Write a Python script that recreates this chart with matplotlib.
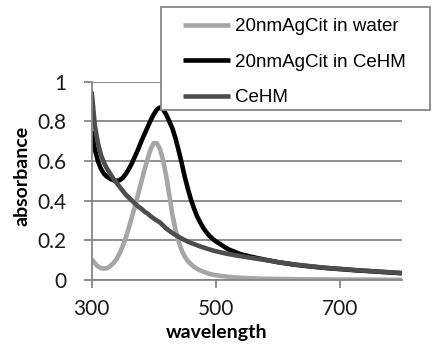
import numpy as np
from matplotlib import pyplot as plt
from matplotlib.patches import Rectangle

# wavelength grid (nm) shared by the three spectra
wavelength = [300, 305, 310, 315, 320, 325, 330, 335, 340, 345,
              350, 355, 360, 365, 370, 375, 380, 385, 390, 395,
              400, 405, 410, 415, 420, 425, 430, 435, 440, 445,
              450, 455, 460, 465, 470, 475, 480, 485, 490, 495,
              500, 520, 540, 560, 580, 600, 625, 650, 675, 700,
              725, 750, 775, 800]

agcit_water = [0.105, 0.085, 0.068, 0.060, 0.057, 0.060, 0.070, 0.085, 0.105, 0.135,
               0.170, 0.215, 0.265, 0.320, 0.375, 0.435, 0.495, 0.555, 0.610, 0.660,
               0.690, 0.690, 0.660, 0.605, 0.525, 0.430, 0.330, 0.255, 0.195, 0.150,
               0.118, 0.095, 0.080, 0.066, 0.056, 0.048, 0.042, 0.036, 0.031, 0.027,
               0.024, 0.016, 0.011, 0.008, 0.006, 0.005, 0.004, 0.003, 0.003, 0.002,
               0.002, 0.002, 0.001, 0.001]

agcit_cehm = [0.750, 0.660, 0.600, 0.560, 0.535, 0.520, 0.510, 0.503, 0.500, 0.503,
              0.515, 0.535, 0.560, 0.590, 0.625, 0.660, 0.700, 0.735, 0.770, 0.805,
              0.835, 0.860, 0.870, 0.860, 0.835, 0.800, 0.765, 0.715, 0.655, 0.590,
              0.520, 0.460, 0.405, 0.360, 0.320, 0.290, 0.262, 0.240, 0.222, 0.207,
              0.195, 0.155, 0.130, 0.115, 0.102, 0.090, 0.078, 0.069, 0.061, 0.055,
              0.049, 0.044, 0.039, 0.034]

cehm = [0.950, 0.780, 0.690, 0.630, 0.590, 0.560, 0.535, 0.510, 0.490, 0.470,
        0.450, 0.430, 0.415, 0.400, 0.385, 0.370, 0.360, 0.345, 0.335, 0.322,
        0.310, 0.300, 0.290, 0.275, 0.260, 0.248, 0.237, 0.227, 0.218, 0.209,
        0.201, 0.194, 0.187, 0.181, 0.175, 0.169, 0.164, 0.159, 0.154, 0.149,
        0.145, 0.131, 0.120, 0.110, 0.101, 0.090, 0.079, 0.070, 0.062, 0.056,
        0.050, 0.045, 0.040, 0.035]

labels = ['20nmAgCit in water', '20nmAgCit in CeHM', 'CeHM']
colors = ['#a6a6a6', '#000000', '#4d4d4d']

grid_c = '#868686'

fig = plt.figure(figsize=(4.34, 3.46), dpi=100)
ax = fig.add_axes([0.2113, 0.1908, 0.7147, 0.5731])

for y, lab, c in zip([agcit_water, agcit_cehm, cehm], labels, colors):
    ax.plot(wavelength, y, color=c, lw=3.3, label=lab, solid_capstyle='butt')

ax.set_xlim(300, 800)
ax.set_ylim(0, 1)
ax.set_xticks([300, 500, 700])
ax.set_yticks([0, 0.2, 0.4, 0.6, 0.8, 1.0])
ax.set_yticklabels(['0', '0.2', '0.4', '0.6', '0.8', '1'])
ax.yaxis.grid(True, color=grid_c, lw=1.3)
ax.set_axisbelow(True)

for s in ['top', 'right']:
    ax.spines[s].set_visible(False)
for s in ['left', 'bottom']:
    ax.spines[s].set_color(grid_c)
    ax.spines[s].set_linewidth(1.3)

ax.tick_params(axis='both', direction='out', length=6, width=1.3, color=grid_c,
               labelsize=15, labelcolor='#1a1a1a')
ax.tick_params(axis='x', pad=8)
ax.tick_params(axis='y', pad=12)
for t in ax.get_xticklabels() + ax.get_yticklabels():
    t.set_family('Lato')

ax.set_xlabel('wavelength', family='Lato', fontweight='bold', fontsize=14)
ax.set_ylabel('absorbance', family='Lato', fontweight='bold', fontsize=14)
ax.xaxis.set_label_coords(0.404, -0.222)
ax.yaxis.set_label_coords(-0.197, 0.526)

# legend box sits over the top-right of the plot
box = Rectangle((0.371, 0.682), 0.62, 0.298, transform=fig.transFigure,
                facecolor='white', edgecolor=grid_c, lw=1.3, zorder=3)
fig.patches.append(box)

handles, labs = ax.get_legend_handles_labels()
leg = fig.legend(handles, labs, loc='upper left', bbox_to_anchor=(0.4217, 0.948),
                 frameon=False, prop={'family': 'Liberation Sans', 'size': 13.5},
                 handlelength=2.5, handletextpad=0.27, labelspacing=0.98,
                 borderpad=0, borderaxespad=0)
leg.set_zorder(4)

plt.savefig('out.png', dpi=100)
